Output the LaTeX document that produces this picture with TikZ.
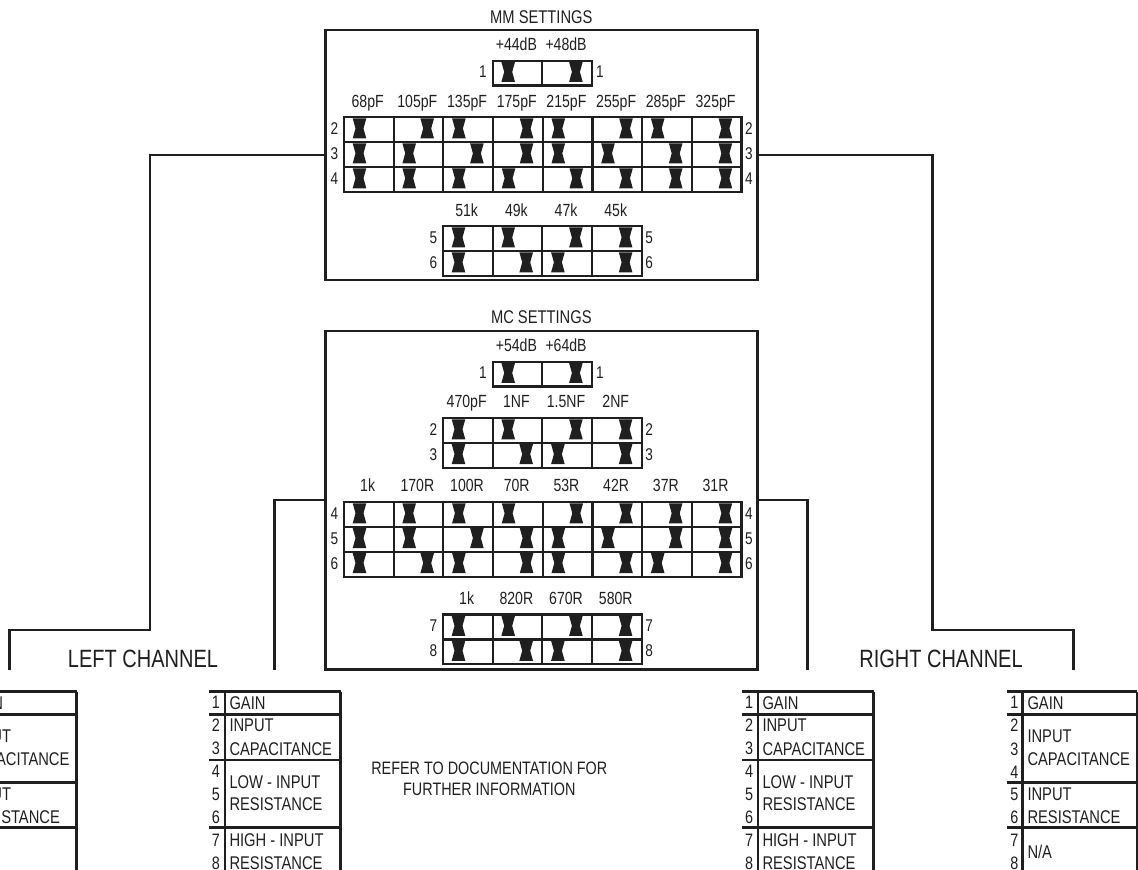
\documentclass[tikz,border=0pt]{standalone}
\usepackage{fontspec}
\setmainfont[FakeStretch=0.8]{Liberation Sans}
\usepackage{tikz}
\usetikzlibrary{positioning}

\colorlet{ink}{black!88}

% one row of switches: name, left x, top y, number, right x, positions (0 left, 1 right)
\newcommand{\switchrow}[6]{
  \node[pinnum] (#1-l) at (#2-8.5,#3+12.6) {#4};
  \node[pinnum] (#1-r) at (#5+8.5,#3+12.6) {#4};
  \foreach \pos [count=\c from 0] in {#6} {
    \node[cell] (#1-\c) at (#2+49.7*\c,#3) {};
    \pic at (#2+49.7*\c+16.7+18*\pos,#3+12.45) {slider};
  }
}
% values above a bank
\newcommand{\bankvalues}[4]{
  \foreach \val [count=\c from 0] in {#4} {
    \node[valuetext] (#1-\c) at (#2+24.85+49.7*\c,#3-13.5) {\val};
  }
}

\begin{document}
\begin{tikzpicture}[
  x=1pt, y=-1pt,
  every node/.style={text=ink, inner sep=0pt},
  cell/.style={draw=ink, line width=2.2pt, anchor=north west, minimum width=49.7pt, minimum height=24.9pt},
  setbox/.style={draw=ink, line width=2.8pt, minimum width=432pt},
  pinnum/.style={font=\fontsize{17}{17}\selectfont},
  valuetext/.style={font=\fontsize{17.6}{17.6}\selectfont, text height=12pt, text depth=3pt},
  heading/.style={font=\fontsize{18.4}{18.4}\selectfont},
  notetext/.style={font=\fontsize{18}{18}\selectfont, align=center},
  channel/.style={font=\fontsize{25}{25}\selectfont},
  tabnum/.style={font=\fontsize{18}{18}\selectfont},
  tabtext/.style={font=\fontsize{18.4}{18.4}\selectfont, anchor=west},
  wire/.style={draw=ink, line width=2.6pt},
  rulebar/.style={draw=ink, line width=2.8pt},
  slider/.pic={\fill[ink] (-6.8,-10) -- (6.8,-10) -- (4,0) -- (6.8,10) -- (-6.8,10) -- (-4,0) -- cycle;}
]
\useasboundingbox (0,0) rectangle (1138,870);
\clip (0,0) rectangle (1138,870);

% settings boxes
\node[setbox, minimum height=250pt] (mmbox) at (541.5,155) {};
\node[setbox, minimum height=338.5pt] (mcbox) at (541.5,500.2) {};
\node[heading] (mmtitle) at (541.3,16.7) {MM SETTINGS};
\node[heading] (mctitle) at (541.3,317.5) {MC SETTINGS};

% MM banks
\bankvalues{mmgain}{491.5}{59.5}{+44dB,+48dB}
\switchrow{mma}{491.5}{59.5}{1}{591.5}{0,1}
\bankvalues{mmcap}{342.8}{116}{68pF,105pF,135pF,175pF,215pF,255pF,285pF,325pF}
\switchrow{mmb}{342.8}{116}{2}{740.4}{0,1,0,1,0,1,0,1}
\switchrow{mmc}{342.8}{140.9}{3}{740.4}{0,0,1,1,0,0,1,1}
\switchrow{mmd}{342.8}{165.8}{4}{740.4}{0,0,0,0,1,1,1,1}
\bankvalues{mmres}{441.8}{225}{51k,49k,47k,45k}
\switchrow{mme}{441.8}{225}{5}{640.6}{0,0,1,1}
\switchrow{mmf}{441.8}{249.9}{6}{640.6}{0,1,0,1}

% MC banks
\bankvalues{mcgain}{491.5}{360.5}{+54dB,+64dB}
\switchrow{mca}{491.5}{360.5}{1}{591.5}{0,1}
\bankvalues{mccap}{441.8}{416.8}{470pF,1NF,1.5NF,2NF}
\switchrow{mcb}{441.8}{416.8}{2}{640.6}{0,0,1,1}
\switchrow{mcc}{441.8}{441.7}{3}{640.6}{0,1,0,1}
\bankvalues{mcres}{342.8}{500.8}{1k,170R,100R,70R,53R,42R,37R,31R}
\switchrow{mcd}{342.8}{500.8}{4}{740.4}{0,0,0,0,1,1,1,1}
\switchrow{mce}{342.8}{525.7}{5}{740.4}{0,0,1,1,0,0,1,1}
\switchrow{mcf}{342.8}{550.6}{6}{740.4}{0,1,0,1,0,1,0,1}
\bankvalues{mchigh}{441.8}{613.4}{1k,820R,670R,580R}
\switchrow{mcg}{441.8}{613.4}{7}{640.6}{0,0,1,1}
\switchrow{mch}{441.8}{638.3}{8}{640.6}{0,1,0,1}

% connectors
\coordinate (mmlbend) at (150,630);
\coordinate (mmlturn) at (9.3,630);
\coordinate (mmlend) at (9.3,670);
\coordinate (mmrbend) at (932.3,630);
\coordinate (mmrturn) at (1073.3,630);
\coordinate (mmrend) at (1073.3,670);
\coordinate (mclstart) at (325.5,500);
\coordinate (mclbend) at (274.7,500);
\coordinate (mclend) at (274.7,670);
\coordinate (mcrstart) at (757.5,500);
\coordinate (mcrbend) at (807.7,500);
\coordinate (mcrend) at (807.7,670);
\draw[wire] (mmbox.west) -| (mmlbend) -- (mmlturn) -- (mmlend);
\draw[wire] (mmbox.east) -| (mmrbend) -- (mmrturn) -- (mmrend);
\draw[wire] (mclstart) -- (mclbend) -- (mclend);
\draw[wire] (mcrstart) -- (mcrbend) -- (mcrend);

\node[channel] (lefttitle) at (143,659.3) {LEFT CHANNEL};
\node[channel] (righttitle) at (941,659.3) {RIGHT CHANNEL};
\node[notetext] (refer) at (489.3,778.5) {REFER TO DOCUMENTATION FOR\\[3pt]FURTHER INFORMATION};

% outer legend tables
\foreach \tb/\xs in {la/-1060.6, rb/0} {
  \begin{scope}[xshift=\xs pt]
    \draw[rulebar] (1007.3,691.7) -- (1137.3,691.7) (1137.3,691.7) -- (1137.3,870) (1022.7,691.7) -- (1022.7,870);
    \draw[rulebar] (1007.3,714.3) -- (1137.3,714.3) (1007.3,782.3) -- (1137.3,782.3) (1007.3,827.3) -- (1137.3,827.3);
    \foreach \num/\ypos in {1/702.7,2/725.7,3/749.3,4/772.3,5/794.3,6/817.7,7/840,8/863.3} {
      \node[tabnum] (\tb-n\num) at (1014.3,\ypos) {\num};
    }
    \node[tabtext] (\tb-gain) at (1027.3,702.7) {GAIN};
    \node[tabtext] (\tb-capa) at (1027.3,736.7) {INPUT};
    \node[tabtext] (\tb-capb) at (1027.3,759.3) {CAPACITANCE};
    \node[tabtext] (\tb-resa) at (1027.3,794.3) {INPUT};
    \node[tabtext] (\tb-resb) at (1027.3,817.3) {RESISTANCE};
  \end{scope}
}
\node[tabtext] (rb-na) at (1027.3,852.3) {N/A};

% inner legend tables
\foreach \tb/\xs in {lb/0, ra/533} {
  \begin{scope}[xshift=\xs pt]
    \draw[rulebar] (209,691.7) -- (340.7,691.7) (340.7,691.7) -- (340.7,870) (225,691.7) -- (225,870);
    \draw[rulebar] (209,714.3) -- (340.7,714.3) (209,760) -- (340.7,760) (209,827.3) -- (340.7,827.3);
    \foreach \num/\ypos in {1/702.7,2/725.7,3/748.3,4/771.7,5/794.3,6/817.7,7/840,8/863.3} {
      \node[tabnum] (\tb-n\num) at (216,\ypos) {\num};
    }
    \node[tabtext] (\tb-gain) at (229.3,702.7) {GAIN};
    \node[tabtext] (\tb-capa) at (229.3,725.7) {INPUT};
    \node[tabtext] (\tb-capb) at (229.3,748.7) {CAPACITANCE};
    \node[tabtext] (\tb-lowa) at (229.3,782.3) {LOW - INPUT};
    \node[tabtext] (\tb-lowb) at (229.3,804.3) {RESISTANCE};
    \node[tabtext] (\tb-higha) at (229.3,840) {HIGH - INPUT};
    \node[tabtext] (\tb-highb) at (229.3,863) {RESISTANCE};
  \end{scope}
}
\end{tikzpicture}
\end{document}
